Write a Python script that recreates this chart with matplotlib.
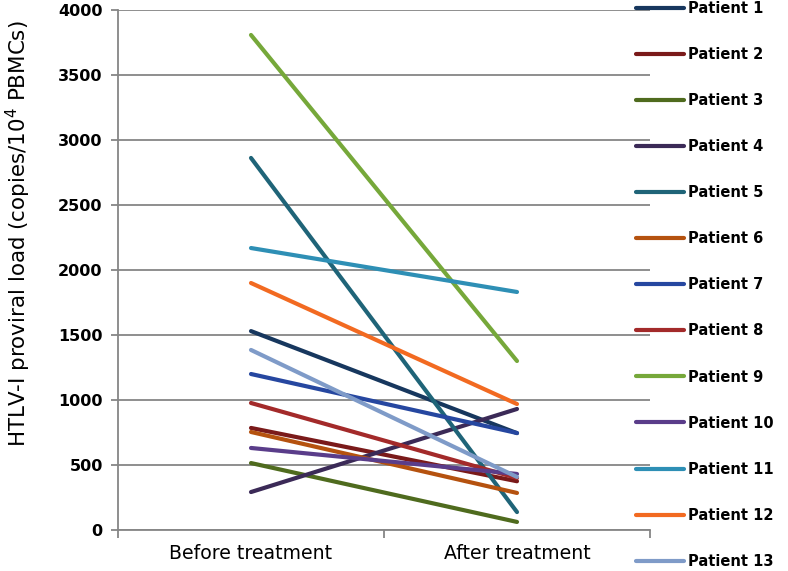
import matplotlib
matplotlib.use("Agg")
import matplotlib.pyplot as plt

categories = ["Before treatment", "After treatment"]
patients = [f"Patient {i}" for i in range(1, 14)]
before = [1530, 785, 515, 292, 2862, 754, 1200, 977, 3808, 631, 2169, 1900, 1385]
after = [745, 375, 62, 931, 138, 285, 746, 400, 1300, 431, 1831, 969, 408]
colors = ["#17375E", "#7A1A1A", "#4F6B1E", "#3B2A57", "#1F6478", "#B5520F",
          "#2647A0", "#A32A2A", "#76A83A", "#5A3D8A", "#2E8FB5", "#F26A21", "#7F9BC8"]
yticks = [0, 500, 1000, 1500, 2000, 2500, 3000, 3500, 4000]

fig = plt.figure(figsize=(7.88, 5.71), dpi=100)
ax = fig.add_axes([118/788, 1-530/571, (650-118)/788, 520/571])

x = [0, 1]
for name, b, a, c in zip(patients, before, after, colors):
    ax.plot(x, [b, a], color=c, lw=3.0, solid_capstyle="round", label=name, zorder=3)

ax.set_xlim(-0.5, 1.5)
ax.set_ylim(0, 4000)
ax.set_yticks(yticks)
ax.set_xticks([0, 1])
ax.set_xticklabels(categories, fontsize=13.6)
ax.set_xticks([-0.5, 0.5, 1.5], minor=True)
ax.tick_params(axis="x", which="major", length=0, pad=10)
ax.tick_params(axis="x", which="minor", length=6, width=1.3, color="#868686", direction="out")
ax.tick_params(axis="y", length=5, width=1.3, color="#868686", direction="out", labelsize=11.5, pad=6)
for lab in ax.get_yticklabels():
    lab.set_fontweight("bold")
ax.yaxis.grid(True, color="#868686", lw=1.3, zorder=0)
ax.set_axisbelow(True)
for s in ["top", "right"]:
    ax.spines[s].set_visible(False)
for s in ["left", "bottom"]:
    ax.spines[s].set_color("#868686")
    ax.spines[s].set_linewidth(1.3)
ax.set_ylabel("HTLV-I proviral load (copies/10$^4$ PBMCs)", fontsize=15.4)
ax.yaxis.set_label_coords(-0.16, 0.569)

leg = fig.legend(loc="upper left", bbox_to_anchor=(636/788, 1 - 1/571), frameon=False,
                 fontsize=10.5, handlelength=3.3, handletextpad=0.25,
                 labelspacing=2.13, borderpad=0, borderaxespad=0)
for t in leg.get_texts():
    t.set_fontweight("bold")

fig.savefig("out.png", dpi=100)
